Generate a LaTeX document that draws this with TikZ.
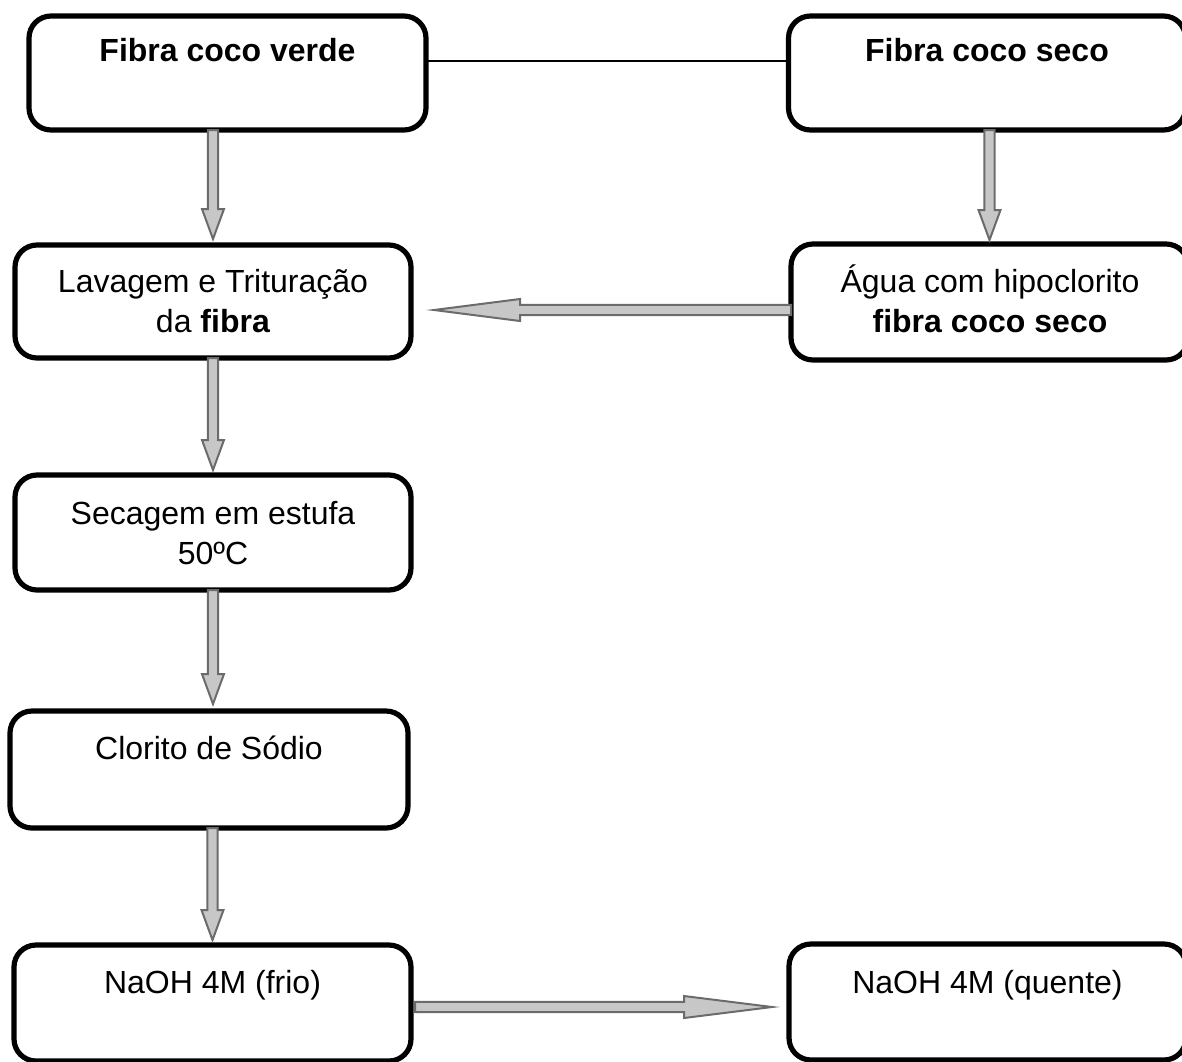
\documentclass[tikz,border=0pt]{standalone}
\usepackage{fontspec}
\setmainfont{Liberation Sans}
\usetikzlibrary{calc}
\tikzset{
  box/.style={draw=black, line width=2.6pt, rounded corners=11pt, fill=white, inner sep=0pt, outer sep=0pt},
  lbl/.style={anchor=base, align=center, inner sep=0pt, font=\fontsize{16pt}{20pt}\selectfont},
  fatarrow/.style={draw=black!58, line width=1pt, fill=black!22, line join=miter},
  fatshadow/.style={fill=black!18, draw=none},
  joinline/.style={draw=black, line width=0.7pt}
}
\newcommand\faPoly{($(fa-s)!2.6pt!90:(fa-e)$) -- ($(fa-h)!2.6pt!90:(fa-e)$) -- ($(fa-h)!5.5pt!90:(fa-e)$) -- (fa-e) -- ($(fa-h)!5.5pt!-90:(fa-e)$) -- ($(fa-h)!2.6pt!-90:(fa-e)$) -- ($(fa-s)!2.6pt!-90:(fa-e)$) -- cycle}
\newcommand\fatarrow[3]{%
  \coordinate (fa-s) at (#1);
  \coordinate (fa-e) at (#2);
  \coordinate (fa-h) at ($(fa-e)!#3!(fa-s)$);
  \fill[fatshadow, shift={(1pt,-1pt)}] \faPoly;
  \draw[fatarrow] \faPoly;
}
\begin{document}
\begin{tikzpicture}[x=0.5pt, y=-0.5pt]
\useasboundingbox (0,0) rectangle (1182,1061);
% boxes
\node[box, minimum width=198.5pt, minimum height=57pt] (A) at (227.5,73) {};
\node[box, minimum width=198.5pt, minimum height=57pt] (B) at (987,73) {};
\node[box, minimum width=198.5pt, minimum height=58pt] (C) at (989.5,302) {};
\node[box, minimum width=198pt, minimum height=56.5pt] (D) at (213,301.5) {};
\node[box, minimum width=198pt, minimum height=57.5pt] (E) at (213,532.5) {};
\node[box, minimum width=199pt, minimum height=58.5pt] (F) at (209,769.5) {};
\node[box, minimum width=198.5pt, minimum height=58pt] (G) at (212.5,1003) {};
\node[box, minimum width=198.5pt, minimum height=58pt] (H) at (987.5,1002) {};
% texts (base anchor = baseline of the last line)
\node[lbl] (At) at (227.5,61) {\textbf{Fibra coco verde}};
\node[lbl] (Bt) at (987,61) {\textbf{Fibra coco seco}};
\node[lbl] (Ct) at (990,332) {Água com hipoclorito\\\textbf{fibra coco seco}};
\node[lbl] (Dt) at (213,332) {Lavagem e Trituração\\da \textbf{fibra}};
\node[lbl] (Et) at (213,564) {Secagem em estufa\\50ºC};
\node[lbl] (Ft) at (209,759) {Clorito de Sódio};
\node[lbl] (Gt) at (212.5,993) {NaOH 4M (frio)};
\node[lbl] (Ht) at (987.5,993) {NaOH 4M (quente)};
% connectors
\draw[joinline] ([yshift=6pt]A.east) -- ([yshift=6pt]B.west);
\fatarrow{A.south -| D.north}{[yshift=3pt]D.north}{15pt}
\fatarrow{B.south -| C.north}{[yshift=2pt]C.north}{15pt}
\fatarrow{D.south}{[yshift=2.5pt]E.north}{15pt}
\fatarrow{E.south}{[yshift=3.5pt]E.south |- F.north}{15pt}
\fatarrow{F.south -| G.north}{[yshift=2.5pt]G.north}{15pt}
\coordinate (c1) at ([yshift=-4pt]C.west);
\fatarrow{c1}{[xshift=11.5pt]D.east |- c1}{43pt}
\coordinate (g1) at ([xshift=2pt,yshift=-2pt]G.east);
\fatarrow{g1}{[xshift=-8.5pt]H.west |- g1}{44pt}
\end{tikzpicture}
\end{document}
